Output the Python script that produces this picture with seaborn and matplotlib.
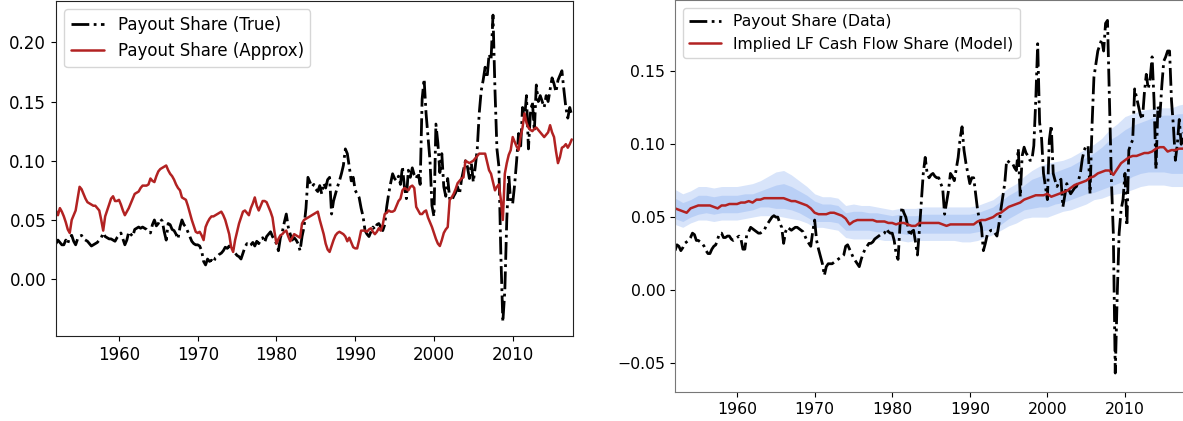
"""
Payout share: true vs approximation (left) and data vs model-implied
LF cash flow share with uncertainty bands (right).
Writes out.png.
"""
import numpy as np
import matplotlib
matplotlib.use("Agg")
import matplotlib.pyplot as plt
import seaborn as sns

# ---- Data ----
# quarterly grid 1952.00 .. 2017.50
payout_true = [
    0.030, 0.033, 0.031, 0.029,  0.029, 0.033, 0.030, 0.036,  0.037, 0.032, 0.029, 0.034,
    0.036, 0.037, 0.034, 0.033,  0.032, 0.030, 0.028, 0.029,  0.030, 0.031, 0.033, 0.035,
    0.039, 0.036, 0.035, 0.034,  0.034, 0.033, 0.032, 0.035,  0.037, 0.039, 0.034, 0.029,
    0.033, 0.040, 0.038, 0.036,  0.042, 0.043, 0.044, 0.043,  0.044, 0.043, 0.042, 0.040,
    0.039, 0.046, 0.050, 0.045,  0.047, 0.051, 0.049, 0.040,  0.033, 0.047, 0.046, 0.042,
    0.041, 0.038, 0.034, 0.044,  0.050, 0.046, 0.044, 0.040,  0.036, 0.032, 0.030, 0.029,
    0.029, 0.028, 0.024, 0.015,  0.012, 0.017, 0.015, 0.016,  0.014, 0.018, 0.019, 0.021,
    0.022, 0.024, 0.027, 0.026,  0.028, 0.024, 0.026, 0.022,  0.020, 0.019, 0.017, 0.022,
    0.027, 0.030, 0.028, 0.029,  0.031, 0.028, 0.032, 0.030,  0.033, 0.035, 0.031, 0.036,
    0.038, 0.040, 0.036, 0.033,  0.030, 0.024, 0.035, 0.040,  0.048, 0.055, 0.044, 0.038,
    0.033, 0.035, 0.033, 0.030,  0.024, 0.036, 0.044, 0.060,  0.086, 0.082, 0.078, 0.080,
    0.076, 0.074, 0.079, 0.072,  0.081, 0.077, 0.084, 0.086,  0.055, 0.066, 0.072, 0.078,
    0.083, 0.089, 0.096, 0.110,  0.106, 0.095, 0.083, 0.086,  0.075, 0.072, 0.069, 0.060,
    0.053, 0.041, 0.038, 0.036,  0.040, 0.044, 0.042, 0.046,  0.047, 0.044, 0.041, 0.046,
    0.061, 0.072, 0.081, 0.089,  0.085, 0.083, 0.087, 0.080,  0.095, 0.078, 0.068, 0.092,
    0.086, 0.094, 0.088, 0.085,  0.090, 0.080, 0.152, 0.169,  0.140, 0.120, 0.100, 0.062,
    0.053, 0.131, 0.115, 0.090,  0.106, 0.078, 0.070, 0.085,  0.068, 0.066, 0.070, 0.073,
    0.078, 0.072, 0.084, 0.092,  0.100, 0.095, 0.085, 0.098,  0.082, 0.095, 0.110, 0.140,
    0.159, 0.168, 0.179, 0.170,  0.190, 0.185, 0.223, 0.160,  0.110, 0.095, 0.020, -0.036,
    -0.010, 0.050, 0.089, 0.064,  0.064, 0.080, 0.100, 0.123,  0.110, 0.145, 0.135, 0.155,
    0.110, 0.140, 0.150, 0.125,  0.164, 0.150, 0.155, 0.150,  0.145, 0.155, 0.150, 0.160,
    0.170, 0.165, 0.158, 0.168,  0.172, 0.176, 0.160, 0.145,  0.136, 0.145, 0.138,
]
payout_approx = [
    0.058, 0.054, 0.060, 0.057,  0.053, 0.048, 0.042, 0.039,  0.050, 0.054, 0.058, 0.068,
    0.078, 0.076, 0.072, 0.068,  0.065, 0.064, 0.063, 0.062,  0.062, 0.060, 0.058, 0.050,
    0.041, 0.053, 0.058, 0.063,  0.068, 0.070, 0.066, 0.066,  0.067, 0.063, 0.058, 0.054,
    0.057, 0.060, 0.064, 0.068,  0.072, 0.073, 0.074, 0.077,  0.079, 0.079, 0.079, 0.080,
    0.085, 0.083, 0.082, 0.087,  0.091, 0.093, 0.094, 0.095,  0.096, 0.092, 0.089, 0.087,
    0.084, 0.080, 0.077, 0.075,  0.069, 0.068, 0.067, 0.062,  0.056, 0.050, 0.045, 0.040,
    0.039, 0.040, 0.037, 0.033,  0.044, 0.048, 0.051, 0.053,  0.053, 0.054, 0.055, 0.056,
    0.057, 0.054, 0.050, 0.044,  0.038, 0.027, 0.023, 0.033,  0.040, 0.047, 0.052, 0.057,
    0.058, 0.056, 0.054, 0.060,  0.064, 0.069, 0.062, 0.058,  0.062, 0.066, 0.066, 0.065,
    0.061, 0.057, 0.052, 0.040,  0.030, 0.034, 0.037, 0.038,  0.040, 0.041, 0.036, 0.032,
    0.035, 0.038, 0.037, 0.036,  0.035, 0.047, 0.050, 0.051,  0.052, 0.053, 0.054, 0.055,
    0.056, 0.057, 0.050, 0.044,  0.038, 0.030, 0.025, 0.023,  0.028, 0.033, 0.037, 0.039,
    0.040, 0.039, 0.038, 0.036,  0.032, 0.035, 0.031, 0.027,  0.026, 0.026, 0.033, 0.041,
    0.041, 0.041, 0.040, 0.042,  0.043, 0.040, 0.038, 0.040,  0.043, 0.041, 0.046, 0.055,
    0.056, 0.058, 0.057, 0.057,  0.058, 0.062, 0.066, 0.068,  0.075, 0.077, 0.076, 0.075,
    0.078, 0.079, 0.077, 0.061,  0.058, 0.055, 0.055, 0.057,  0.058, 0.052, 0.048, 0.044,
    0.039, 0.034, 0.030, 0.028,  0.033, 0.039, 0.042, 0.044,  0.067, 0.069, 0.072, 0.076,
    0.081, 0.083, 0.085, 0.086,  0.100, 0.099, 0.098, 0.099,  0.100, 0.102, 0.104, 0.106,
    0.106, 0.106, 0.106, 0.099,  0.092, 0.089, 0.082, 0.075,  0.078, 0.080, 0.067, 0.050,
    0.089, 0.098, 0.105, 0.109,  0.120, 0.116, 0.112, 0.109,  0.120, 0.128, 0.140, 0.132,
    0.128, 0.126, 0.125, 0.127,  0.128, 0.126, 0.124, 0.122,  0.120, 0.122, 0.124, 0.130,
    0.124, 0.120, 0.108, 0.098,  0.103, 0.111, 0.112, 0.114,  0.111, 0.114, 0.118,
]
payout_data = [
    0.027, 0.031, 0.030, 0.027,  0.029, 0.032, 0.033, 0.034,  0.036, 0.039, 0.038, 0.034,
    0.034, 0.033, 0.032, 0.030,  0.027, 0.025, 0.025, 0.028,  0.030, 0.031, 0.035, 0.039,
    0.039, 0.036, 0.036, 0.037,  0.037, 0.035, 0.034, 0.035,  0.036, 0.037, 0.035, 0.028,
    0.028, 0.038, 0.040, 0.043,  0.042, 0.041, 0.040, 0.039,  0.039, 0.040, 0.041, 0.044,
    0.046, 0.048, 0.050, 0.051,  0.050, 0.050, 0.046, 0.043,  0.032, 0.040, 0.043, 0.042,
    0.041, 0.042, 0.043, 0.043,  0.042, 0.041, 0.040, 0.037,  0.034, 0.032, 0.030, 0.040,
    0.048, 0.034, 0.028, 0.023,  0.018, 0.010, 0.016, 0.018,  0.018, 0.018, 0.019, 0.020,
    0.021, 0.022, 0.023, 0.024,  0.030, 0.031, 0.028, 0.025,  0.022, 0.020, 0.018, 0.016,
    0.021, 0.025, 0.028, 0.030,  0.032, 0.032, 0.033, 0.035,  0.036, 0.037, 0.038, 0.038,
    0.039, 0.042, 0.040, 0.039,  0.039, 0.034, 0.025, 0.021,  0.044, 0.057, 0.053, 0.050,
    0.044, 0.037, 0.040, 0.041,  0.033, 0.024, 0.041, 0.060,  0.080, 0.091, 0.080, 0.077,
    0.079, 0.080, 0.078, 0.077,  0.077, 0.073, 0.070, 0.052,  0.060, 0.068, 0.080, 0.078,
    0.075, 0.083, 0.091, 0.104,  0.112, 0.096, 0.087, 0.080,  0.073, 0.077, 0.077, 0.066,
    0.055, 0.048, 0.043, 0.027,  0.032, 0.038, 0.040, 0.041,  0.041, 0.039, 0.037, 0.045,
    0.055, 0.064, 0.073, 0.089,  0.088, 0.087, 0.087, 0.084,  0.082, 0.097, 0.064, 0.092,
    0.098, 0.094, 0.092, 0.089,  0.089, 0.099, 0.130, 0.169,  0.115, 0.104, 0.080, 0.071,
    0.062, 0.103, 0.113, 0.080,  0.075, 0.071, 0.074, 0.076,  0.057, 0.065, 0.073, 0.069,
    0.066, 0.068, 0.070, 0.071,  0.075, 0.080, 0.090, 0.096,  0.099, 0.099, 0.066, 0.112,
    0.146, 0.155, 0.164, 0.168,  0.172, 0.164, 0.183, 0.185,  0.130, 0.076, 0.039, -0.057,
    -0.004, 0.039, 0.055, 0.062,  0.080, 0.044, 0.096, 0.100,  0.103, 0.138, 0.132, 0.126,
    0.120, 0.117, 0.135, 0.148,  0.138, 0.145, 0.160, 0.130,  0.083, 0.126, 0.119, 0.140,
    0.157, 0.160, 0.164, 0.164,  0.130, 0.112, 0.089, 0.100,  0.117, 0.100, 0.108,
]
# half-year grid 1952.0 .. 2017.5
lf_share_model = [
    0.056, 0.055, 0.054, 0.053, 0.056, 0.057, 0.058, 0.058, 0.058, 0.058,
    0.057, 0.056, 0.058, 0.058, 0.059, 0.059, 0.059, 0.060, 0.060, 0.061,
    0.060, 0.062, 0.062, 0.063, 0.063, 0.063, 0.063, 0.063, 0.063, 0.062,
    0.061, 0.061, 0.060, 0.059, 0.058, 0.056, 0.053, 0.052, 0.052, 0.052,
    0.053, 0.053, 0.052, 0.051, 0.049, 0.045, 0.047, 0.048, 0.048, 0.048,
    0.048, 0.048, 0.047, 0.047, 0.047, 0.046, 0.046, 0.045, 0.046, 0.046,
    0.045, 0.044, 0.044, 0.046, 0.046, 0.046, 0.046, 0.046, 0.046, 0.045,
    0.044, 0.045, 0.045, 0.045, 0.045, 0.045, 0.045, 0.045, 0.047, 0.048,
    0.048, 0.049, 0.050, 0.052, 0.053, 0.055, 0.057, 0.058, 0.059, 0.060,
    0.062, 0.063, 0.064, 0.065, 0.065, 0.065, 0.066, 0.064, 0.065, 0.066,
    0.067, 0.068, 0.070, 0.072, 0.073, 0.074, 0.075, 0.077, 0.078, 0.080,
    0.081, 0.082, 0.082, 0.079, 0.083, 0.087, 0.089, 0.091, 0.092, 0.092,
    0.093, 0.094, 0.094, 0.095, 0.097, 0.098, 0.098, 0.095, 0.096, 0.096,
    0.097, 0.097,
]
# annual grid 1952 .. 2018 (outer = light band, inner = darker band)
band_outer_hi = [
    0.069, 0.066, 0.068, 0.071, 0.071, 0.070, 0.071, 0.071, 0.071, 0.072,
    0.073, 0.075, 0.078, 0.081, 0.082, 0.079, 0.075, 0.071, 0.066, 0.064,
    0.064, 0.063, 0.058, 0.059, 0.058, 0.058, 0.057, 0.056, 0.055, 0.056,
    0.056, 0.056, 0.057, 0.057, 0.057, 0.057, 0.057, 0.057, 0.057, 0.058,
    0.060, 0.062, 0.066, 0.070, 0.073, 0.078, 0.082, 0.085, 0.087, 0.088,
    0.089, 0.091, 0.094, 0.097, 0.100, 0.104, 0.110, 0.114, 0.119, 0.121,
    0.123, 0.124, 0.125, 0.125, 0.125, 0.127, 0.128,
]
band_inner_hi = [
    0.063, 0.060, 0.062, 0.065, 0.065, 0.064, 0.065, 0.065, 0.065, 0.066,
    0.066, 0.068, 0.070, 0.072, 0.073, 0.071, 0.068, 0.065, 0.061, 0.059,
    0.059, 0.058, 0.053, 0.054, 0.054, 0.053, 0.053, 0.052, 0.051, 0.052,
    0.051, 0.051, 0.052, 0.052, 0.052, 0.052, 0.052, 0.052, 0.052, 0.053,
    0.055, 0.057, 0.061, 0.065, 0.068, 0.072, 0.076, 0.078, 0.080, 0.081,
    0.083, 0.085, 0.088, 0.091, 0.094, 0.098, 0.103, 0.106, 0.110, 0.113,
    0.115, 0.117, 0.119, 0.120, 0.120, 0.121, 0.121,
]
band_inner_lo = [
    0.049, 0.047, 0.050, 0.052, 0.053, 0.052, 0.053, 0.053, 0.053, 0.054,
    0.055, 0.057, 0.057, 0.056, 0.056, 0.055, 0.053, 0.050, 0.047, 0.047,
    0.047, 0.046, 0.041, 0.041, 0.041, 0.041, 0.040, 0.040, 0.039, 0.039,
    0.038, 0.039, 0.039, 0.039, 0.039, 0.039, 0.039, 0.039, 0.039, 0.040,
    0.041, 0.042, 0.045, 0.049, 0.052, 0.055, 0.056, 0.057, 0.057, 0.059,
    0.060, 0.062, 0.064, 0.066, 0.067, 0.069, 0.071, 0.073, 0.075, 0.078,
    0.080, 0.081, 0.081, 0.081, 0.080, 0.080, 0.080,
]
band_outer_lo = [
    0.045, 0.043, 0.046, 0.048, 0.048, 0.047, 0.048, 0.048, 0.048, 0.049,
    0.050, 0.051, 0.051, 0.051, 0.050, 0.049, 0.048, 0.046, 0.043, 0.043,
    0.042, 0.041, 0.036, 0.035, 0.035, 0.035, 0.035, 0.034, 0.034, 0.034,
    0.033, 0.034, 0.034, 0.034, 0.034, 0.034, 0.034, 0.033, 0.033, 0.034,
    0.036, 0.038, 0.041, 0.044, 0.046, 0.049, 0.050, 0.050, 0.050, 0.052,
    0.054, 0.055, 0.057, 0.059, 0.062, 0.063, 0.065, 0.066, 0.067, 0.069,
    0.071, 0.072, 0.072, 0.072, 0.071, 0.071, 0.071,
]

t_q = np.arange(1952.0, 2017.6, 0.25)
t_h = np.arange(1952.0, 2017.6, 0.5)
t_a = np.arange(1952, 2019)

RED = "#b22222"
BAND = "cornflowerblue"
FS_LEFT = 12
FS_RIGHT = 11.3


def main():
    sns.set_style("ticks")
    plt.rcParams["font.family"] = ["DejaVu Sans"]
    plt.rcParams["text.color"] = "black"
    plt.rcParams["xtick.color"] = "black"
    plt.rcParams["ytick.color"] = "black"

    fig = plt.figure(figsize=(11.83, 4.21), dpi=100)

    # ---- Left: true vs approx ----
    ax1 = fig.add_axes([0.0473, 0.2019, 0.437, 0.796])
    sns.lineplot(x=t_q, y=payout_true, ax=ax1, color="black", linestyle="-.",
                 linewidth=2.0, label="Payout Share (True)")
    sns.lineplot(x=t_q, y=payout_approx, ax=ax1, color=RED, linewidth=1.8,
                 label="Payout Share (Approx)")
    ax1.set_xlim(1952.0, 2017.65)
    ax1.set_ylim(-0.048, 0.235)
    ax1.set_yticks([0.0, 0.05, 0.10, 0.15, 0.20])
    ax1.set_xticks([1960, 1970, 1980, 1990, 2000, 2010])
    ax1.legend(loc="upper left", fontsize=FS_LEFT, framealpha=0.8)
    ax1.tick_params(labelsize=FS_LEFT)
    for s in ax1.spines.values():
        s.set_color("#222222")

    # ---- Right: data vs model-implied share ----
    ax2 = fig.add_axes([0.5706, 0.0689, 0.4305, 0.9311])
    ax2.fill_between(t_a, band_outer_lo, band_outer_hi, color=BAND, alpha=0.25,
                     linewidth=0)
    ax2.fill_between(t_a, band_inner_lo, band_inner_hi, color=BAND, alpha=0.25,
                     linewidth=0)
    sns.lineplot(x=t_q, y=payout_data, ax=ax2, color="black", linestyle="-.",
                 linewidth=2.0, label="Payout Share (Data)")
    sns.lineplot(x=t_h, y=lf_share_model, ax=ax2, color=RED, linewidth=1.8,
                 label="Implied LF Cash Flow Share (Model)")
    ax2.set_xlim(1952.0, 2017.65)
    ax2.set_ylim(-0.070, 0.199)
    ax2.set_yticks([-0.05, 0.0, 0.05, 0.10, 0.15])
    ax2.set_xticks([1960, 1970, 1980, 1990, 2000, 2010])
    ax2.legend(loc="upper left", fontsize=FS_RIGHT, framealpha=0.8)
    ax2.tick_params(labelsize=FS_RIGHT)
    for s in ax2.spines.values():
        s.set_color("#777777")

    for ax in (ax1, ax2):
        ax.set_xlabel("")
        ax.set_ylabel("")

    fig.savefig("out.png", dpi=100)
    plt.close(fig)


if __name__ == "__main__":
    main()
